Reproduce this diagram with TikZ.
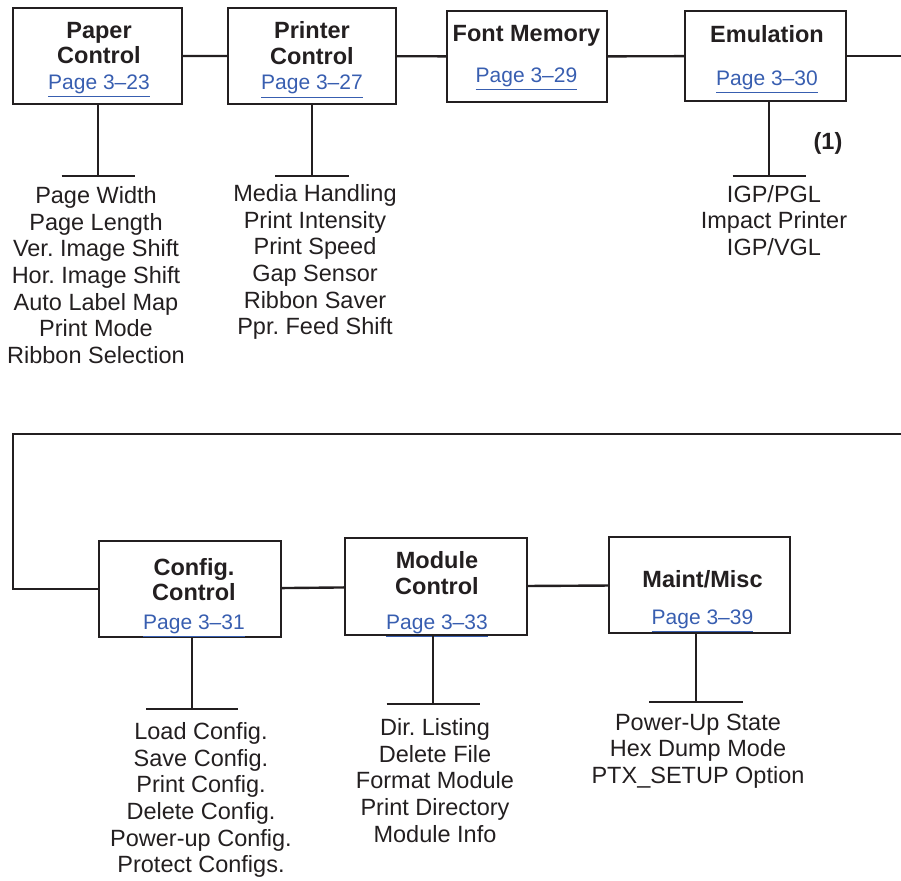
\documentclass[tikz,border=0pt]{standalone}
\usepackage{fontspec}
\setmainfont{Liberation Sans}
\frenchspacing
\definecolor{ink}{RGB}{35,31,32}
\definecolor{linkblue}{RGB}{56,94,176}
\newcommand{\pagelink}[1]{{\normalfont\fontsize{10.5}{12.75}\selectfont\color{linkblue}\underline{#1}}}

\begin{document}
\begin{tikzpicture}[x = 0.5pt, y = -0.5pt, line width = 1.2pt, color = ink,
                      menu/.style = {rectangle, draw, inner sep = 0pt},
                      heading/.style = {align = center, inner sep = 0pt, font = \fontsize{11.75}{12.75}\selectfont\bfseries},
                      items/.style = {align = center, inner sep = 0pt, font = \fontsize{11.75}{13.35}\selectfont}]
    \useasboundingbox (0, 0) rectangle (901, 880);

    % top row
    \node [menu, minimum width = 84.5pt, minimum height = 48pt] (paper) at (97.5, 56){};
    \node [menu, minimum width = 84pt, minimum height = 48pt] (printer) at (312, 56){};
    \node [menu, minimum width = 80pt, minimum height = 45.5pt] (font) at (527, 56.5){};
    \node [menu, minimum width = 80.5pt, minimum height = 45pt] (emul) at (765.5, 56){};

    \node [heading] (paper-t) at (99, 60){Paper\\Control\\\pagelink{Page 3--23}};
    \node [heading] (printer-t) at (312, 60){Printer\\Control\\\pagelink{Page 3--27}};
    \node [heading] (font-t) at (526.5, 58){Font Memory\\[7.75pt]\pagelink{Page 3--29}};
    \node [heading] (emul-t) at (767, 59.5){Emulation\\[8.75pt]\pagelink{Page 3--30}};

    % bottom row
    \node [menu, minimum width = 91pt, minimum height = 48pt] (config) at (190, 589){};
    \node [menu, minimum width = 91pt, minimum height = 48.5pt] (module) at (436, 586.5){};
    \node [menu, minimum width = 90.5pt, minimum height = 48pt] (maint) at (699.5, 585){};

    \node [heading] (config-t) at (194, 598){Config.\\Control\\[1.75pt]\pagelink{Page 3--31}};
    \node [heading] (module-t) at (437, 594.5){Module\\Control\\[4.75pt]\pagelink{Page 3--33}};
    \node [heading] (maint-t) at (702.5, 601.5){Maint/Misc\\[5.75pt]\pagelink{Page 3--39}};

    % chain
    \coordinate (e-out) at (901, 57);
    \coordinate (wrap-r) at (901, 434);
    \coordinate (wrap-l) at (13, 434);
    \coordinate (wrap-d) at (13, 589);
    \draw (paper) -- (printer) -- (font) -- (emul);
    \draw (emul.east) -- (emul.east -| e-out);
    \draw (wrap-r) -- (wrap-l) -- (wrap-d) -- (config.west);
    \draw (config) -- (module) -- (maint);

    % tees
    \coordinate (paper-tee) at (98, 176);
    \coordinate (printer-tee) at (312, 176);
    \coordinate (emul-tee) at (769, 176);
    \coordinate (config-tee) at (192, 709);
    \coordinate (module-tee) at (433, 704);
    \coordinate (maint-tee) at (696, 702);
    \draw (paper-tee |- paper.south) -- (paper-tee);
    \draw (paper-tee) ++(-36.5, 0) -- ++(73, 0);
    \draw (printer-tee |- printer.south) -- (printer-tee);
    \draw (printer-tee) ++(-37, 0) -- ++(74, 0);
    \draw (emul-tee |- emul.south) -- (emul-tee);
    \draw (emul-tee) ++(-36.5, 0) -- ++(73, 0);
    \draw (config-tee |- config.south) -- (config-tee);
    \draw (config-tee) ++(-46, 0) -- ++(92, 0);
    \draw (module-tee |- module.south) -- (module-tee);
    \draw (module-tee) ++(-46.5, 0) -- ++(93, 0);
    \draw (maint-tee |- maint.south) -- (maint-tee);
    \draw (maint-tee) ++(-47, 0) -- ++(94, 0);

    % item lists
    \node [items] (paper-l) at (96, 275){Page Width\\Page Length\\Ver. Image Shift\\Hor. Image Shift\\Auto Label Map\\Print Mode\\Ribbon Selection};
    \node [items] (printer-l) at (315, 262){Media Handling\\Print Intensity\\Print Speed\\Gap Sensor\\Ribbon Saver\\Ppr. Feed Shift};
    \node [items] (emul-l) at (774, 220.5){IGP/PGL\\Impact Printer\\IGP/VGL};
    \node [items] (config-l) at (201, 800){Load Config.\\Save Config.\\Print Config.\\Delete Config.\\Power-up Config.\\Protect Configs.};
    \node [items] (module-l) at (435, 780.5){Dir. Listing\\Delete File\\Format Module\\Print Directory\\Module Info};
    \node [items] (maint-l) at (698, 751){Power-Up State\\Hex Dump Mode\\PTX\_SETUP Option};
    \node [heading] (note) at (828, 143){(1)};
\end{tikzpicture}
\end{document}
